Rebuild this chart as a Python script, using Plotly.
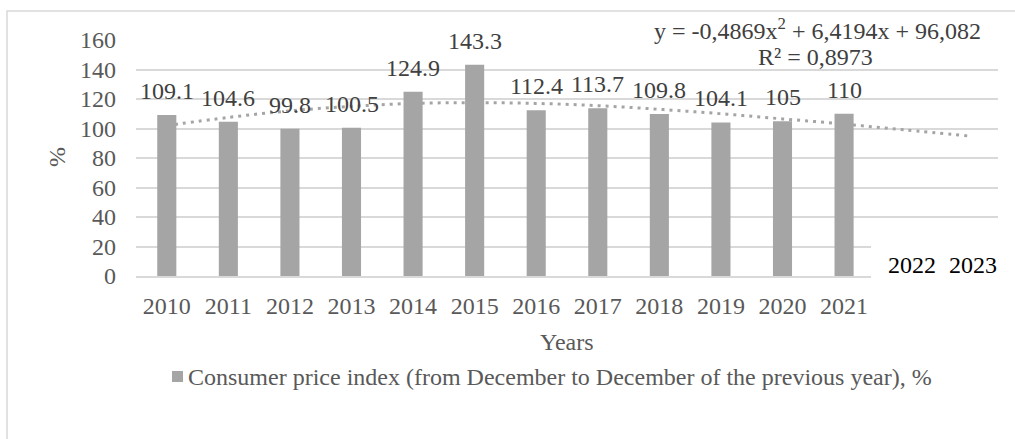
import plotly.graph_objects as go

# ---------------- data ----------------
years = ["2010", "2011", "2012", "2013", "2014", "2015", "2016", "2017",
         "2018", "2019", "2020", "2021"]
cpi = [109.1, 104.6, 99.8, 100.5, 124.9, 143.3, 112.4, 113.7, 109.8, 104.1, 105, 110]
cpi_labels = ["109.1", "104.6", "99.8", "100.5", "124.9", "143.3", "112.4", "113.7",
              "109.8", "104.1", "105", "110"]
forecast_years = ["2022", "2023"]
all_years = years + forecast_years
# polynomial trendline, values at each category
trend = [102, 107.5, 112, 115, 117, 117.5, 117, 115.5, 113, 110, 106.5, 103, 99, 95]
equation_text = "y = -0,4869x<sup>2</sup> + 6,4194x + 96,082"
r2_text = "R² = 0,8973"
series_name = "Consumer price index (from December to December of the previous year), %"
y_ticks = [0, 20, 40, 60, 80, 100, 120, 140, 160]

# ---------------- layout geometry ----------------
W, H = 1015, 439
L, R, T, B = 136, 998, 40, 276


def px_x(px):
    return (px - L) / (R - L)


def px_y(py):
    return (B - py) / (B - T)


FONT = "Liberation Serif, Times New Roman, serif"
GREY_TXT = "#595959"
DARK_TXT = "#404040"
BAR = "#A5A5A5"
GRID = "#D9D9D9"
FS = 24

fig = go.Figure()

# trendline on base axes (drawn beneath the bars)
fig.add_trace(go.Scatter(
    x=list(range(len(all_years))), y=trend, mode="lines",
    line=dict(color=BAR, width=3, dash="3px,5px", shape="spline"),
    showlegend=False, hoverinfo="skip",
    xaxis="x", yaxis="y",
))

# bars on overlay axes so they sit above the trendline
fig.add_trace(go.Bar(
    x=list(range(len(years))), y=cpi, name=series_name,
    marker=dict(color=BAR, line=dict(width=0)),
    width=0.31, showlegend=False,
    xaxis="x2", yaxis="y2",
))

annotations = []
for i, (v, lab) in enumerate(zip(cpi, cpi_labels)):
    annotations.append(dict(
        x=i, y=v, xref="x", yref="y", text=lab, showarrow=False,
        xanchor="center", yanchor="middle", yshift=24,
        font=dict(family=FONT, size=FS, color=DARK_TXT),
    ))

# trendline equation
annotations.append(dict(x=px_x(817), y=px_y(29), xref="paper", yref="paper",
                        text=equation_text, showarrow=False,
                        xanchor="center", yanchor="middle",
                        font=dict(family=FONT, size=FS, color=DARK_TXT)))
annotations.append(dict(x=px_x(815), y=px_y(57), xref="paper", yref="paper",
                        text=r2_text, showarrow=False,
                        xanchor="center", yanchor="middle",
                        font=dict(family=FONT, size=FS, color=DARK_TXT)))

# forecast year labels (pasted text box)
for yr in forecast_years:
    annotations.append(dict(x=all_years.index(yr), y=px_y(265), xref="x", yref="paper",
                            text=yr, showarrow=False, xshift=6,
                            xanchor="center", yanchor="middle",
                            font=dict(family=FONT, size=FS, color="#000000")))

# axis titles
annotations.append(dict(x=px_x(567), y=px_y(342), xref="paper", yref="paper",
                        text="Years", showarrow=False,
                        xanchor="center", yanchor="middle",
                        font=dict(family=FONT, size=FS, color=GREY_TXT)))
annotations.append(dict(x=px_x(57), y=px_y(157), xref="paper", yref="paper",
                        text="%", showarrow=False, textangle=-90,
                        xanchor="center", yanchor="middle",
                        font=dict(family=FONT, size=FS, color=GREY_TXT)))

# legend (Excel style: small square right next to the text)
annotations.append(dict(x=px_x(186), y=px_y(377), xref="paper", yref="paper",
                        text=series_name, showarrow=False,
                        xanchor="left", yanchor="middle",
                        font=dict(family=FONT, size=FS, color=GREY_TXT)))

shapes = [
    # legend key
    dict(type="rect", xref="paper", yref="paper",
         x0=px_x(172), x1=px_x(183), y0=px_y(382), y1=px_y(371),
         fillcolor=BAR, line=dict(width=0), layer="above"),
    # white text box covering the end of the axis
    dict(type="rect", xref="paper", yref="paper",
         x0=px_x(871), x1=px_x(1003), y0=px_y(238), y1=px_y(316),
         fillcolor="white", line=dict(width=0), layer="above"),
    # chart border
    dict(type="rect", xref="paper", yref="paper",
         x0=px_x(7), x1=px_x(1030), y0=px_y(11), y1=px_y(460),
         fillcolor="rgba(0,0,0,0)", line=dict(color=GRID, width=1.5), layer="below"),
]

axis_common = dict(range=[-0.5, len(all_years) - 0.5])

fig.update_layout(
    width=W, height=H,
    margin=dict(l=L, r=W - R, t=T, b=H - B, autoexpand=False),
    paper_bgcolor="white", plot_bgcolor="white",
    font=dict(family=FONT, size=FS, color=GREY_TXT),
    xaxis=dict(**axis_common, tickmode="array", tickvals=list(range(len(years))),
               ticktext=years,
               showgrid=False, showline=True, linecolor=GRID, linewidth=1.5,
               ticks="", ticklabelstandoff=7,
               tickfont=dict(family=FONT, size=FS, color=GREY_TXT), zeroline=False),
    yaxis=dict(range=[0, 160], tickmode="array", tickvals=y_ticks,
               showgrid=True, gridcolor=GRID, gridwidth=1.5, zeroline=False,
               showline=False, ticks="", ticklabelstandoff=19,
               tickfont=dict(family=FONT, size=FS, color=GREY_TXT)),
    xaxis2=dict(**axis_common, overlaying="x", visible=False),
    yaxis2=dict(range=[0, 160], overlaying="y", visible=False),
    showlegend=False,
    annotations=annotations,
    shapes=shapes,
    bargap=0.69,
)

fig.write_html("out.html", config={"displayModeBar": False},
               post_script="document.body.style.margin='0';")
